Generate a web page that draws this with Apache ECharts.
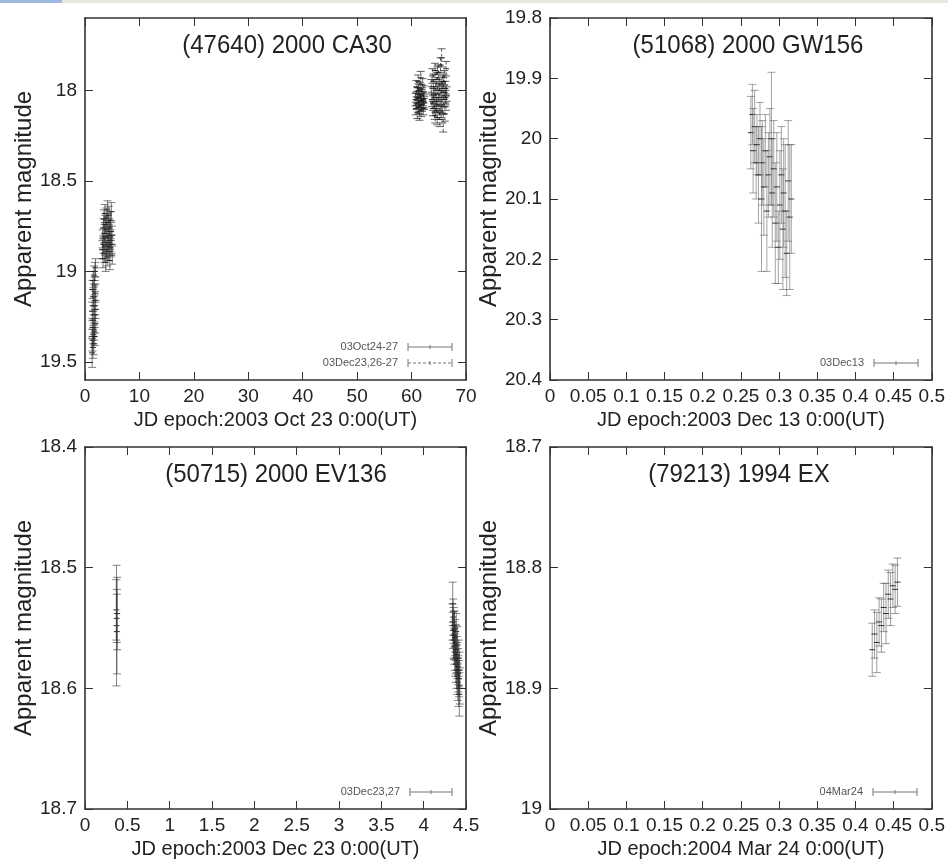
<!DOCTYPE html>
<html><head><meta charset="utf-8">
<script src="https://cdn.jsdelivr.net/npm/echarts@6/dist/echarts.min.js"></script>
<style>html,body{margin:0;padding:0;background:#fff}#c{width:948px;height:863px}</style>
</head><body><div id="c"></div>
<script>
// ---------- data ----------
const titles = ['(47640) 2000 CA30', '(51068) 2000 GW156', '(50715) 2000 EV136', '(79213) 1994 EX'];
const xNames = ['JD epoch:2003 Oct 23 0:00(UT)', 'JD epoch:2003 Dec 13 0:00(UT)', 'JD epoch:2003 Dec 23 0:00(UT)', 'JD epoch:2004 Mar 24 0:00(UT)'];
const yName = 'Apparent magnitude';
const legendNames = ['03Oct24-27', '03Dec23,26-27', '03Dec13', '03Dec23,27', '04Mar24'];

const yTicks1 = [18, 18.5, 19, 19.5];

// (47640) 2000 CA30 : 03Oct24-27
const p1aX = [1.30,1.33,1.36,1.39,1.42,1.45,1.48,1.51,1.54,1.57,1.60,1.63,1.66,1.69,1.72,1.75,1.78,1.81,1.84,1.87,1.90,1.93,1.96,
  3.20,3.25,3.30,3.36,3.41,3.47,3.52,3.58,3.63,3.69,3.74,3.80,3.85,3.91,3.96,4.02,4.07,4.13,4.18,4.24,4.29,4.35,4.40,4.46,4.51,4.57,4.62,4.68,4.73,4.79,4.84,4.90,4.95,5.00];
const p1aY = [19.45,19.22,19.38,19.10,19.31,19.42,19.05,19.27,19.35,19.14,19.40,19.19,19.02,19.33,19.24,19.08,19.36,19.16,19.00,19.29,19.12,18.98,19.21,
  18.88,18.82,18.93,18.76,18.85,18.71,18.90,18.79,18.68,18.86,18.74,18.95,18.81,18.70,18.88,18.77,18.92,18.66,18.84,18.73,18.89,18.80,18.69,18.86,18.76,18.94,18.83,18.72,18.87,18.78,18.67,18.85,18.80,18.91];
const p1aE = [0.08,0.05,0.06,0.05,0.05,0.06,0.05,0.05,0.05,0.05,0.06,0.05,0.05,0.05,0.05,0.05,0.05,0.05,0.05,0.05,0.05,0.05,0.05,
  0.05,0.05,0.05,0.05,0.05,0.05,0.05,0.05,0.05,0.05,0.05,0.05,0.05,0.05,0.05,0.05,0.05,0.05,0.05,0.05,0.05,0.05,0.05,0.05,0.05,0.05,0.05,0.05,0.05,0.05,0.05,0.05,0.05,0.05];

// (47640) 2000 CA30 : 03Dec23,26-27
const p1bX = [60.72,60.80,60.88,60.96,61.04,61.12,61.20,61.28,61.36,61.44,61.52,61.60,61.68,61.76,61.84,61.92,62.00,62.08,62.16,62.24,62.32,
  61.00,61.30,61.60,61.90,62.20,
  63.62,63.72,63.82,63.92,64.02,64.12,64.22,64.32,64.42,64.52,64.62,64.72,64.82,64.92,65.02,65.12,65.22,65.32,65.42,65.52,65.62,65.72,65.82,65.92,66.02,66.12,66.22,66.32,66.42,
  63.95,64.35,64.75,65.15,65.55,65.95,66.35,64.10,64.60,65.05,65.45,65.85,66.25];
const p1bY = [18.05,18.10,17.98,18.07,18.12,18.02,17.95,18.09,18.04,18.13,17.99,18.06,17.93,18.11,18.03,18.08,17.97,18.05,18.10,18.01,18.07,
  18.04,18.00,18.08,18.02,18.06,
  17.98,18.05,17.92,18.10,17.95,18.03,18.12,17.89,18.00,18.08,17.94,18.15,18.02,17.90,18.06,17.97,18.11,17.86,18.04,17.82,18.09,17.96,18.18,18.01,17.93,18.13,17.99,18.07,18.02,
  18.07,18.14,17.91,18.16,17.99,18.05,17.88,18.02,18.09,18.00,18.12,17.95,18.04];
const p1bE = [0.035,0.035,0.035,0.035,0.035,0.035,0.035,0.035,0.035,0.035,0.035,0.035,0.035,0.035,0.035,0.035,0.035,0.035,0.035,0.035,0.035,
  0.035,0.035,0.035,0.035,0.035,
  0.04,0.04,0.04,0.04,0.04,0.04,0.04,0.04,0.04,0.04,0.04,0.04,0.04,0.04,0.04,0.04,0.04,0.04,0.04,0.05,0.04,0.04,0.05,0.04,0.04,0.04,0.04,0.04,0.04,
  0.04,0.04,0.04,0.04,0.04,0.04,0.04,0.04,0.04,0.04,0.04,0.04,0.04];

// (51068) 2000 GW156 : 03Dec13
const p2X = [0.263,0.265,0.266,0.268,0.270,0.271,0.273,0.275,0.277,0.278,0.280,0.282,0.284,0.286,0.288,0.290,0.291,0.293,0.295,0.297,0.299,0.301,0.303,0.305,0.306,0.308,0.310,0.312,0.314,0.316];
const p2Y = [19.99,19.96,20.02,19.98,20.04,20.01,20.06,20.00,20.10,20.04,20.08,20.02,20.12,20.06,20.03,20.00,20.09,20.05,20.14,20.08,20.18,20.11,20.06,20.15,20.09,20.12,20.19,20.07,20.13,20.10];
const p2E = [0.06,0.05,0.07,0.06,0.06,0.05,0.08,0.06,0.12,0.07,0.08,0.06,0.10,0.07,0.08,0.11,0.09,0.08,0.10,0.09,0.06,0.09,0.08,0.10,0.09,0.11,0.07,0.10,0.12,0.09];

// (50715) 2000 EV136 : 03Dec23,27
const p3X = [0.370,0.372,0.375,0.377,0.380,
  4.340,4.343,4.346,4.349,4.352,4.355,4.358,4.361,4.364,4.367,4.370,4.373,4.376,4.379,4.382,4.385,4.388,4.391,4.394,4.397,4.400,4.403,4.406,4.409,4.412,4.415,4.418,4.421,4.424,4.427];
const p3Y = [18.535,18.548,18.542,18.553,18.538,
  18.545,18.530,18.552,18.541,18.560,18.548,18.556,18.565,18.551,18.570,18.558,18.575,18.562,18.580,18.568,18.553,18.585,18.572,18.590,18.577,18.564,18.595,18.582,18.588,18.600,18.575,18.592,18.605,18.585,18.598];
const p3E = [0.025,0.05,0.02,0.035,0.03,
  0.015,0.018,0.015,0.015,0.015,0.015,0.02,0.015,0.015,0.015,0.015,0.015,0.015,0.015,0.02,0.015,0.015,0.015,0.015,0.015,0.015,0.015,0.015,0.015,0.015,0.015,0.015,0.018,0.015,0.015];

// (79213) 1994 EX : 04Mar24
const p4X = [0.422,0.425,0.428,0.431,0.434,0.437,0.440,0.443,0.446,0.449,0.452,0.455];
const p4Y = [18.868,18.855,18.862,18.845,18.848,18.833,18.838,18.822,18.826,18.815,18.818,18.812];
const p4E = [0.022,0.020,0.025,0.020,0.022,0.020,0.025,0.020,0.022,0.018,0.020,0.020];

// ---------- chart ----------
const FONT = '"Liberation Sans", Arial, sans-serif';
const AX = '#333';
const zip = (xs, ys, es) => xs.map((x, i) => [x, ys[i], es[i]]);

const grids = [
  {left: 85, top: 18, width: 381, height: 362},
  {left: 550, top: 18, width: 383, height: 362},
  {left: 85, top: 447, width: 381, height: 362},
  {left: 550, top: 447, width: 383, height: 362}
];
const xr = [[0, 70, 10], [0, 0.5, 0.05], [0, 4.5, 0.5], [0, 0.5, 0.05]];
const yr = [[17.6, 19.6, yTicks1], [19.8, 20.4, 0.1], [18.4, 18.7, 0.1], [18.7, 19.0, 0.1]];

const xAxis = [], yAxis = [];
grids.forEach((g, i) => {
  const [xmin, xmax, xint] = xr[i];
  const base = {type: 'value', gridIndex: i, min: xmin, max: xmax, interval: xint,
    axisLine: {show: true, onZero: false, lineStyle: {color: AX, width: 1.6}},
    axisTick: {show: true, inside: true, length: 8, lineStyle: {color: AX, width: 1}},
    splitLine: {show: false}};
  xAxis.push(Object.assign({}, base, {position: 'bottom',
    name: xNames[i], nameLocation: 'middle', nameGap: 30,
    nameTextStyle: {fontFamily: FONT, fontSize: 20, color: '#222'},
    axisLabel: {show: true, fontFamily: FONT, fontSize: 19, color: '#222', margin: 7, showMinLabel: true, showMaxLabel: true}}));
  xAxis.push(Object.assign({}, base, {position: 'top', axisLabel: {show: false}}));

  const [ymin, ymax, yt] = yr[i];
  const ybase = {type: 'value', gridIndex: i, min: ymin, max: ymax, inverse: true,
    axisLine: {show: true, onZero: false, lineStyle: {color: AX, width: 1.6}},
    splitLine: {show: false}};
  let tick, lab;
  if (Array.isArray(yt)) {
    ybase.interval = 0.1;
    tick = {show: true, inside: true, length: 8, customValues: yt, lineStyle: {color: AX, width: 1}};
    lab = {customValues: yt};
  } else {
    ybase.interval = yt;
    tick = {show: true, inside: true, length: 8, lineStyle: {color: AX, width: 1}};
    lab = {};
  }
  yAxis.push(Object.assign({}, ybase, {position: 'left', axisTick: tick,
    name: yName, nameLocation: 'middle', nameGap: i % 2 ? 32 : 29, nameRotate: 90,
    nameTextStyle: {fontFamily: FONT, fontSize: 24, color: '#222'},
    axisLabel: Object.assign({show: true, fontFamily: FONT, fontSize: 19, color: '#222', margin: 8, showMinLabel: true, showMaxLabel: true}, lab)}));
  yAxis.push(Object.assign({}, ybase, {position: 'right', axisTick: tick, axisLabel: {show: false}}));
});

function makeRender(color, dash) {
  return function (params, api) {
    const x = api.value(0), y = api.value(1), e = api.value(2);
    const a = api.coord([x, y - e]), b = api.coord([x, y + e]), c = api.coord([x, y]);
    const s = {stroke: color, lineWidth: 1};
    if (dash) s.lineDash = dash;
    const cw = 4;
    return {type: 'group', children: [
      {type: 'line', shape: {x1: a[0], y1: a[1], x2: b[0], y2: b[1]}, style: s},
      {type: 'line', shape: {x1: a[0] - cw, y1: a[1], x2: a[0] + cw, y2: a[1]}, style: {stroke: color, lineWidth: 1}},
      {type: 'line', shape: {x1: b[0] - cw, y1: b[1], x2: b[0] + cw, y2: b[1]}, style: {stroke: color, lineWidth: 1}},
      {type: 'line', shape: {x1: c[0] - 3, y1: c[1], x2: c[0] + 3, y2: c[1]}, style: {stroke: 'rgba(20,20,20,0.85)', lineWidth: 1}}
    ]};
  };
}

const series = [
  {name: legendNames[0], data: zip(p1aX, p1aY, p1aE), g: 0, dash: null, col: 'rgba(40,40,40,0.6)'},
  {name: legendNames[1], data: zip(p1bX, p1bY, p1bE), g: 0, dash: [3, 2], col: 'rgba(30,30,30,0.7)'},
  {name: legendNames[2], data: zip(p2X, p2Y, p2E), g: 1, dash: null, col: 'rgba(90,90,90,0.55)'},
  {name: legendNames[3], data: zip(p3X, p3Y, p3E), g: 2, dash: null, col: 'rgba(50,50,50,0.6)'},
  {name: legendNames[4], data: zip(p4X, p4Y, p4E), g: 3, dash: null, col: 'rgba(90,90,90,0.6)'}
].map(s => ({type: 'custom', name: s.name, xAxisIndex: s.g * 2, yAxisIndex: s.g * 2,
  data: s.data, encode: {x: 0, y: 1}, renderItem: makeRender(s.col, s.dash), clip: true}));

// legend samples + titles as graphics
function legendItem(text, x1, x2, y, dash) {
  const col = '#777';
  const ls = {stroke: col, lineWidth: 1};
  if (dash) ls.lineDash = dash;
  const m = (x1 + x2) / 2;
  return [
    {type: 'text', x: x1 - 10, y: y, style: {text: text, fill: '#555', font: '11px ' + FONT, textAlign: 'right', textVerticalAlign: 'middle'}},
    {type: 'line', shape: {x1: x1, y1: y, x2: x2, y2: y}, style: ls},
    {type: 'line', shape: {x1: x1, y1: y - 4, x2: x1, y2: y + 4}, style: {stroke: col, lineWidth: 1}},
    {type: 'line', shape: {x1: x2, y1: y - 4, x2: x2, y2: y + 4}, style: {stroke: col, lineWidth: 1}},
    {type: 'line', shape: {x1: m, y1: y - 2, x2: m, y2: y + 2}, style: {stroke: col, lineWidth: 1}}
  ];
}
const titlePos = [[287, 46], [748, 46], [276, 475], [739, 475]];
const graphic = [
  {type: 'rect', shape: {x: 0, y: 0, width: 948, height: 3}, style: {fill: '#e9e6da'}},
  {type: 'rect', shape: {x: 0, y: 0, width: 62, height: 3}, style: {fill: '#9fb8e0'}}
];
titles.forEach((t, i) => graphic.push({type: 'text', x: titlePos[i][0], y: titlePos[i][1], scaleY: 1.1,
  style: {text: t, fill: '#222', font: '24px ' + FONT, textAlign: 'center', textVerticalAlign: 'middle'}}));
graphic.push(...legendItem(legendNames[0], 408, 452, 347, null));
graphic.push(...legendItem(legendNames[1], 408, 452, 363, [3, 2]));
graphic.push(...legendItem(legendNames[2], 874, 918, 363, null));
graphic.push(...legendItem(legendNames[3], 410, 452, 792, null));
graphic.push(...legendItem(legendNames[4], 873, 917, 792, null));

const chart = echarts.init(document.getElementById('c'), null, {renderer: 'canvas'});
chart.setOption({
  animation: false,
  backgroundColor: '#fff',
  grid: grids,
  xAxis: xAxis,
  yAxis: yAxis,
  series: series,
  graphic: graphic
});
</script></body></html>
